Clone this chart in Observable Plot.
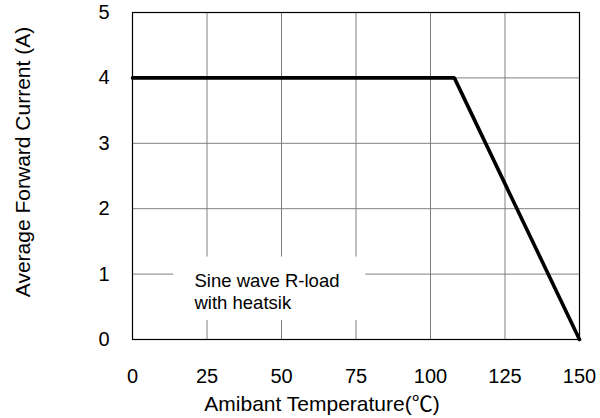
<!DOCTYPE html>
<html>
<head>
<meta charset="utf-8">
<script src="https://cdn.jsdelivr.net/npm/d3@7"></script>
<script src="https://cdn.jsdelivr.net/npm/@observablehq/plot@0.6"></script>
<style>
  html, body { margin: 0; padding: 0; background: #fff; }
</style>
</head>
<body>
<div id="chart"></div>
<script>
// Derating curve: Average forward current vs ambient temperature
const temperature = [0, 108, 150];
const current = [4, 4, 0];

const xTicks = [0, 25, 50, 75, 100, 125, 150];
const yTicks = [0, 1, 2, 3, 4, 5];

const xTitle = "Amibant Temperature(℃)";
const yTitle = "Average Forward Current (A)";

const noteText = ["Sine wave R-load\nwith heatsik"];
const noteAt = [{x: 20.8, y: 1.03}];
const noteBox = [{x1: 13.8, x2: 78.3, y1: 0.29, y2: 1.26}];

const curve = temperature.map((t, i) => ({t, a: current[i]}));

const font = "'Liberation Sans', Arial, 'Noto Sans CJK SC', sans-serif";

const chart = Plot.plot({
  width: 600,
  height: 418,
  marginLeft: 132,
  marginRight: 21,
  marginTop: 12,
  marginBottom: 79,
  style: {fontFamily: font, fontSize: "20px", color: "#000", background: "#fff", overflow: "visible"},
  x: {domain: [0, 150]},
  y: {domain: [0, 5]},
  marks: [
    Plot.gridX(xTicks.filter(d => d > 0 && d < 150), {stroke: "#808080", strokeOpacity: 1}),
    Plot.gridY(yTicks.filter(d => d > 0 && d < 5), {stroke: "#808080", strokeOpacity: 1}),
    Plot.rect(noteBox, {x1: "x1", x2: "x2", y1: "y1", y2: "y2", fill: "#fff"}),
    Plot.text(noteAt, {x: "x", y: "y", text: () => noteText[0], textAnchor: "start", lineAnchor: "top",
      fontSize: 18.5, lineHeight: 1.15, fill: "#000"}),
    Plot.axisX(xTicks, {tickSize: 0, tickPadding: 29, label: null, fontSize: 20, tickFormat: d => String(d)}),
    Plot.axisY(yTicks, {tickSize: 0, tickPadding: 23, label: null, fontSize: 20, tickFormat: d => String(d)}),
    Plot.line(curve, {x: "t", y: "a", stroke: "#000", strokeWidth: 3.6, strokeLinejoin: "miter"}),
    Plot.frame({stroke: "#000", strokeWidth: 1.2}),
    Plot.text([xTitle], {frameAnchor: "bottom", text: d => d, textAnchor: "middle", lineAnchor: "bottom", dy: 71, dx: -34, fontSize: 21, fill: "#000"}),
    Plot.text([yTitle], {frameAnchor: "left", text: d => d, textAnchor: "middle", lineAnchor: "bottom", rotate: -90, dx: -103, dy: -14, fontSize: 21, fill: "#000"})
  ]
});

document.getElementById("chart").appendChild(chart);
</script>
</body>
</html>
